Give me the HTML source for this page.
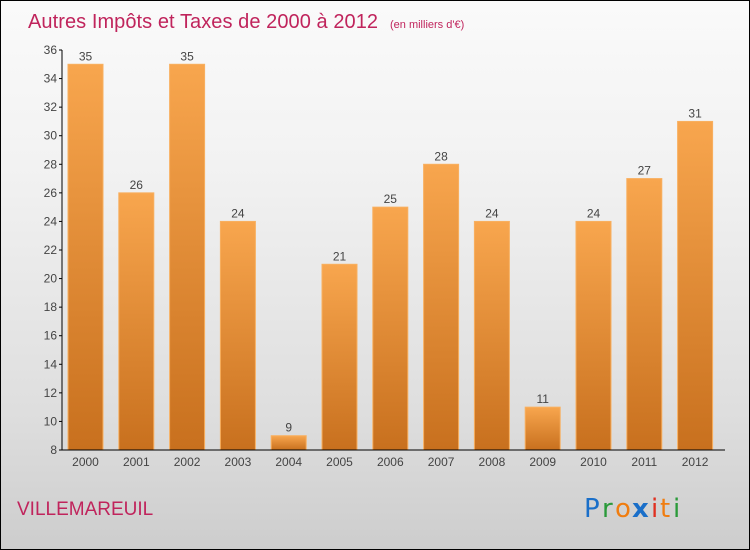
<!DOCTYPE html>
<html><head><meta charset="utf-8"><style>
body{margin:0;}
#wrap{position:relative;width:748px;height:548px;border:1px solid #000;background:linear-gradient(#fafafa,#f2f2f2 30%,#dedede 75%,#cdcdcd);font-family:"Liberation Sans",sans-serif;overflow:hidden}
</style></head><body>
<div id="wrap">
<svg id="c" width="748" height="548">
<defs>
<linearGradient id="bg" x1="0" y1="0" x2="0" y2="1"><stop offset="0" stop-color="#f8a64e"/><stop offset="1" stop-color="#c8701e"/></linearGradient>
</defs>
<text x="27" y="27" font-size="20" fill="#c0245c" textLength="350">Autres Impôts et Taxes de 2000 à 2012</text>
<text x="389" y="27" font-size="11" fill="#c0245c">(en milliers d'€)</text>
<text x="16" y="514" font-size="19" fill="#c0245c">VILLEMAREUIL</text>
<g font-size="26" font-family="'DejaVu Sans',sans-serif">
<text x="583" y="516" fill="#1a6fc9">P</text><text x="601" y="516" fill="#2a9a3a">r</text><text x="614" y="516" fill="#f07d10">o</text><text x="631" y="516" fill="#1a6fc9" font-weight="bold">x</text><text x="650" y="516" fill="#e03020">i</text><text x="659" y="516" fill="#f07d10">t</text><text x="672" y="516" fill="#2a9a3a">i</text>
</g>
<g id="plot"></g>
</svg>
</div>
<script>
const categories=["2000","2001","2002","2003","2004","2005","2006","2007","2008","2009","2010","2011","2012"];
const values=[35,26,35,24,9,21,25,28,24,11,24,27,31];
const yTicks=[8,10,12,14,16,18,20,22,24,26,28,30,32,34,36];
const NS="http://www.w3.org/2000/svg";
const g=document.getElementById('plot');
const y0=449,y1=49,vmin=8,vmax=36;
function yS(v){return y0-(v-vmin)/(vmax-vmin)*(y0-y1);}
function xS(i){return 84.5+i*50.8;}
function mk(t,a,txt){const e=document.createElementNS(NS,t);for(const k in a)e.setAttribute(k,a[k]);if(txt!==undefined)e.textContent=txt;g.appendChild(e);return e;}
values.forEach((v,i)=>{
 const r=mk('rect',{x:xS(i)-17.5,y:yS(v),width:35,height:y0-yS(v),fill:'url(#bg)',stroke:'#f8b060','stroke-width':1});
 
 
 const t=mk('text',{x:xS(i),y:yS(v)-4,'text-anchor':'middle','font-size':12,fill:'#444'},String(v));
 
 
 const c=mk('text',{x:xS(i),y:y0+16,'text-anchor':'middle','font-size':12,fill:'#444'},categories[i]);
 
 
});
yTicks.forEach(v=>{
 const t=mk('text',{x:56,y:yS(v)+4,'text-anchor':'end','font-size':12,fill:'#444'},String(v));
 
 
 const l=mk('line',{x1:58,x2:61,y1:yS(v),y2:yS(v),stroke:'#000'});
 
 
});
const ya=mk('line',{x1:61,x2:61,y1:y1,y2:y0,stroke:'#000'});


const xa=mk('line',{x1:61,x2:724,y1:y0,y2:y0,stroke:'#000'});


</script>
</body></html>
